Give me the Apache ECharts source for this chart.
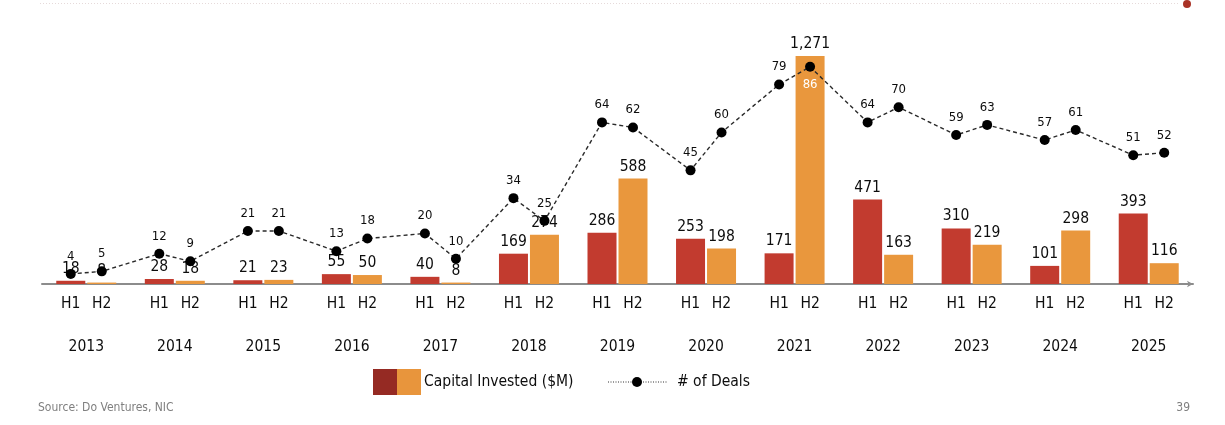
<!DOCTYPE html>
<html>
<head>
<meta charset="utf-8">
<script src="https://cdn.jsdelivr.net/npm/echarts@6/dist/echarts.min.js"></script>
<style>
html,body{margin:0;padding:0;background:#fff;}
#chart{width:1225px;height:425px;}
</style>
</head>
<body>
<div id="chart"></div>
<script>
// ---- data ----
const years = ['2013','2014','2015','2016','2017','2018','2019','2020','2021','2022','2023','2024','2025'];
const halfLabels = ['H1','H2'];
const capitalH1 = [18, 28, 21, 55, 40, 169, 286, 253, 171, 471, 310, 101, 393];
const capitalH2 = [8, 18, 23, 50, 8, 274, 588, 198, 1271, 163, 219, 298, 116];
const dealsH1 = [4, 12, 21, 13, 20, 34, 64, 45, 79, 64, 59, 57, 51];
const dealsH2 = [5, 9, 21, 18, 10, 25, 62, 60, 86, 70, 63, 61, 52];
const seriesNames = ['Capital Invested ($M)', '# of Deals'];
const sourceText = 'Source: Do Ventures, NIC';
const pageNumber = '39';

// ---- layout ----
const W = 1225, H = 425;
const gridLeft = 42, gridRight = 32, gridTop = 34, gridBottom = 141;
const barWidth = 29, barGapPx = 2;
const catWidth = (W - gridLeft - gridRight) / years.length;
const halfOffset = (barWidth + barGapPx) / 2 / catWidth;

const FONT = "'DejaVu Sans Condensed', 'DejaVu Sans', sans-serif";
const RED = '#c23b2f', ORANGE = '#e9973d', TEXT = '#0d0d0d';

// line points: H1 then H2 for each year, placed at the bar centres
const dealPoints = [];
years.forEach((y, i) => {
  dealPoints.push({ value: [i - halfOffset, dealsH1[i]] });
  dealPoints.push({ value: [i + halfOffset, dealsH2[i]] });
});
// the peak label sits inside the bar in white
let peakIdx = 0;
dealPoints.forEach((p, k) => { if (p.value[1] > dealPoints[peakIdx].value[1]) peakIdx = k; });
dealPoints[peakIdx].label = { position: 'bottom', color: '#ffffff', distance: 6 };

const fmt = v => Number(v).toLocaleString('en-US');

const chart = echarts.init(document.getElementById('chart'), null, { renderer: 'canvas' });
chart.setOption({
  animation: false,
  backgroundColor: '#ffffff',
  textStyle: { fontFamily: FONT },
  grid: { left: gridLeft, right: gridRight, top: gridTop, bottom: gridBottom, containLabel: false },
  xAxis: [
    {
      type: 'category', data: years, gridIndex: 0, position: 'bottom',
      axisLine: { show: true, lineStyle: { color: '#8c8c8c', width: 2 }, symbol: ['none', 'arrow'], symbolSize: [5, 6] },
      axisTick: { show: false },
      axisLabel: {
        margin: 12, interval: 0,
        formatter: () => '{a|' + halfLabels[0] + '}{b|' + halfLabels[1] + '}',
        rich: {
          a: { width: barWidth + barGapPx, align: 'center', fontSize: 15.5, color: TEXT, fontFamily: FONT },
          b: { width: barWidth + barGapPx, align: 'center', fontSize: 15.5, color: TEXT, fontFamily: FONT }
        }
      }
    },
    {
      type: 'category', data: years, gridIndex: 0, position: 'bottom',
      axisLine: { show: false }, axisTick: { show: false },
      axisLabel: { margin: 55, interval: 0, fontSize: 15.5, color: TEXT, fontFamily: FONT }
    },
    { type: 'value', show: false, min: -0.5, max: years.length - 0.5, gridIndex: 0 }
  ],
  yAxis: [
    { type: 'value', show: false, min: 0, max: 1394 },
    { type: 'value', show: false, min: 0, max: 99 }
  ],
  series: [
    {
      name: seriesNames[0] + ' H1', type: 'bar', xAxisIndex: 0, yAxisIndex: 0,
      data: capitalH1, barWidth: barWidth, barGap: (barGapPx / barWidth * 100) + '%',
      itemStyle: { color: RED },
      label: { show: true, position: 'top', distance: 4, fontSize: 15.5, color: TEXT, fontFamily: FONT, formatter: p => fmt(p.value) },
      z: 2
    },
    {
      name: seriesNames[0] + ' H2', type: 'bar', xAxisIndex: 0, yAxisIndex: 0,
      data: capitalH2, barWidth: barWidth,
      itemStyle: { color: ORANGE },
      label: { show: true, position: 'top', distance: 4, fontSize: 15.5, color: TEXT, fontFamily: FONT, formatter: p => fmt(p.value) },
      z: 2
    },
    {
      name: seriesNames[1], type: 'line', xAxisIndex: 2, yAxisIndex: 1,
      data: dealPoints,
      symbol: 'circle', symbolSize: 10,
      itemStyle: { color: '#000000' },
      lineStyle: { color: '#2a2a2a', width: 1.4, type: [4, 3] },
      label: { show: true, position: 'top', distance: 6, fontSize: 13, color: TEXT, fontFamily: FONT, formatter: p => p.value[1] },
      z: 5
    }
  ],
  graphic: [
    // top decoration
    { type: 'line', shape: { x1: 40, y1: 3.5, x2: 1180, y2: 3.5 }, style: { stroke: '#e6dada', lineWidth: 1, lineDash: [1, 2] }, silent: true },
    { type: 'circle', shape: { cx: 1187, cy: 4, r: 4 }, style: { fill: '#a93226' }, silent: true },
    // legend
    { type: 'rect', shape: { x: 373, y: 369, width: 24, height: 26 }, style: { fill: '#952a23' } },
    { type: 'rect', shape: { x: 397, y: 369, width: 24, height: 26 }, style: { fill: '#e8953c' } },
    { type: 'text', x: 424, y: 382, style: { text: seriesNames[0], fontSize: 15.5, fill: TEXT, fontFamily: FONT, textVerticalAlign: 'middle' } },
    { type: 'line', shape: { x1: 608, y1: 382, x2: 668, y2: 382 }, style: { stroke: '#333333', lineWidth: 1, lineDash: [1, 1.5] } },
    { type: 'circle', shape: { cx: 637, cy: 382, r: 5 }, style: { fill: '#000000' } },
    { type: 'text', x: 677, y: 382, style: { text: seriesNames[1], fontSize: 15.5, fill: TEXT, fontFamily: FONT, textVerticalAlign: 'middle' } },
    // footer
    { type: 'text', x: 38, y: 408, style: { text: sourceText, fontSize: 12, fill: '#7f7f7f', fontFamily: FONT, textVerticalAlign: 'middle' } },
    { type: 'text', x: 1190, y: 408, style: { text: pageNumber, fontSize: 12, fill: '#7f7f7f', fontFamily: FONT, textAlign: 'right', textVerticalAlign: 'middle' } }
  ]
});
</script>
</body>
</html>
